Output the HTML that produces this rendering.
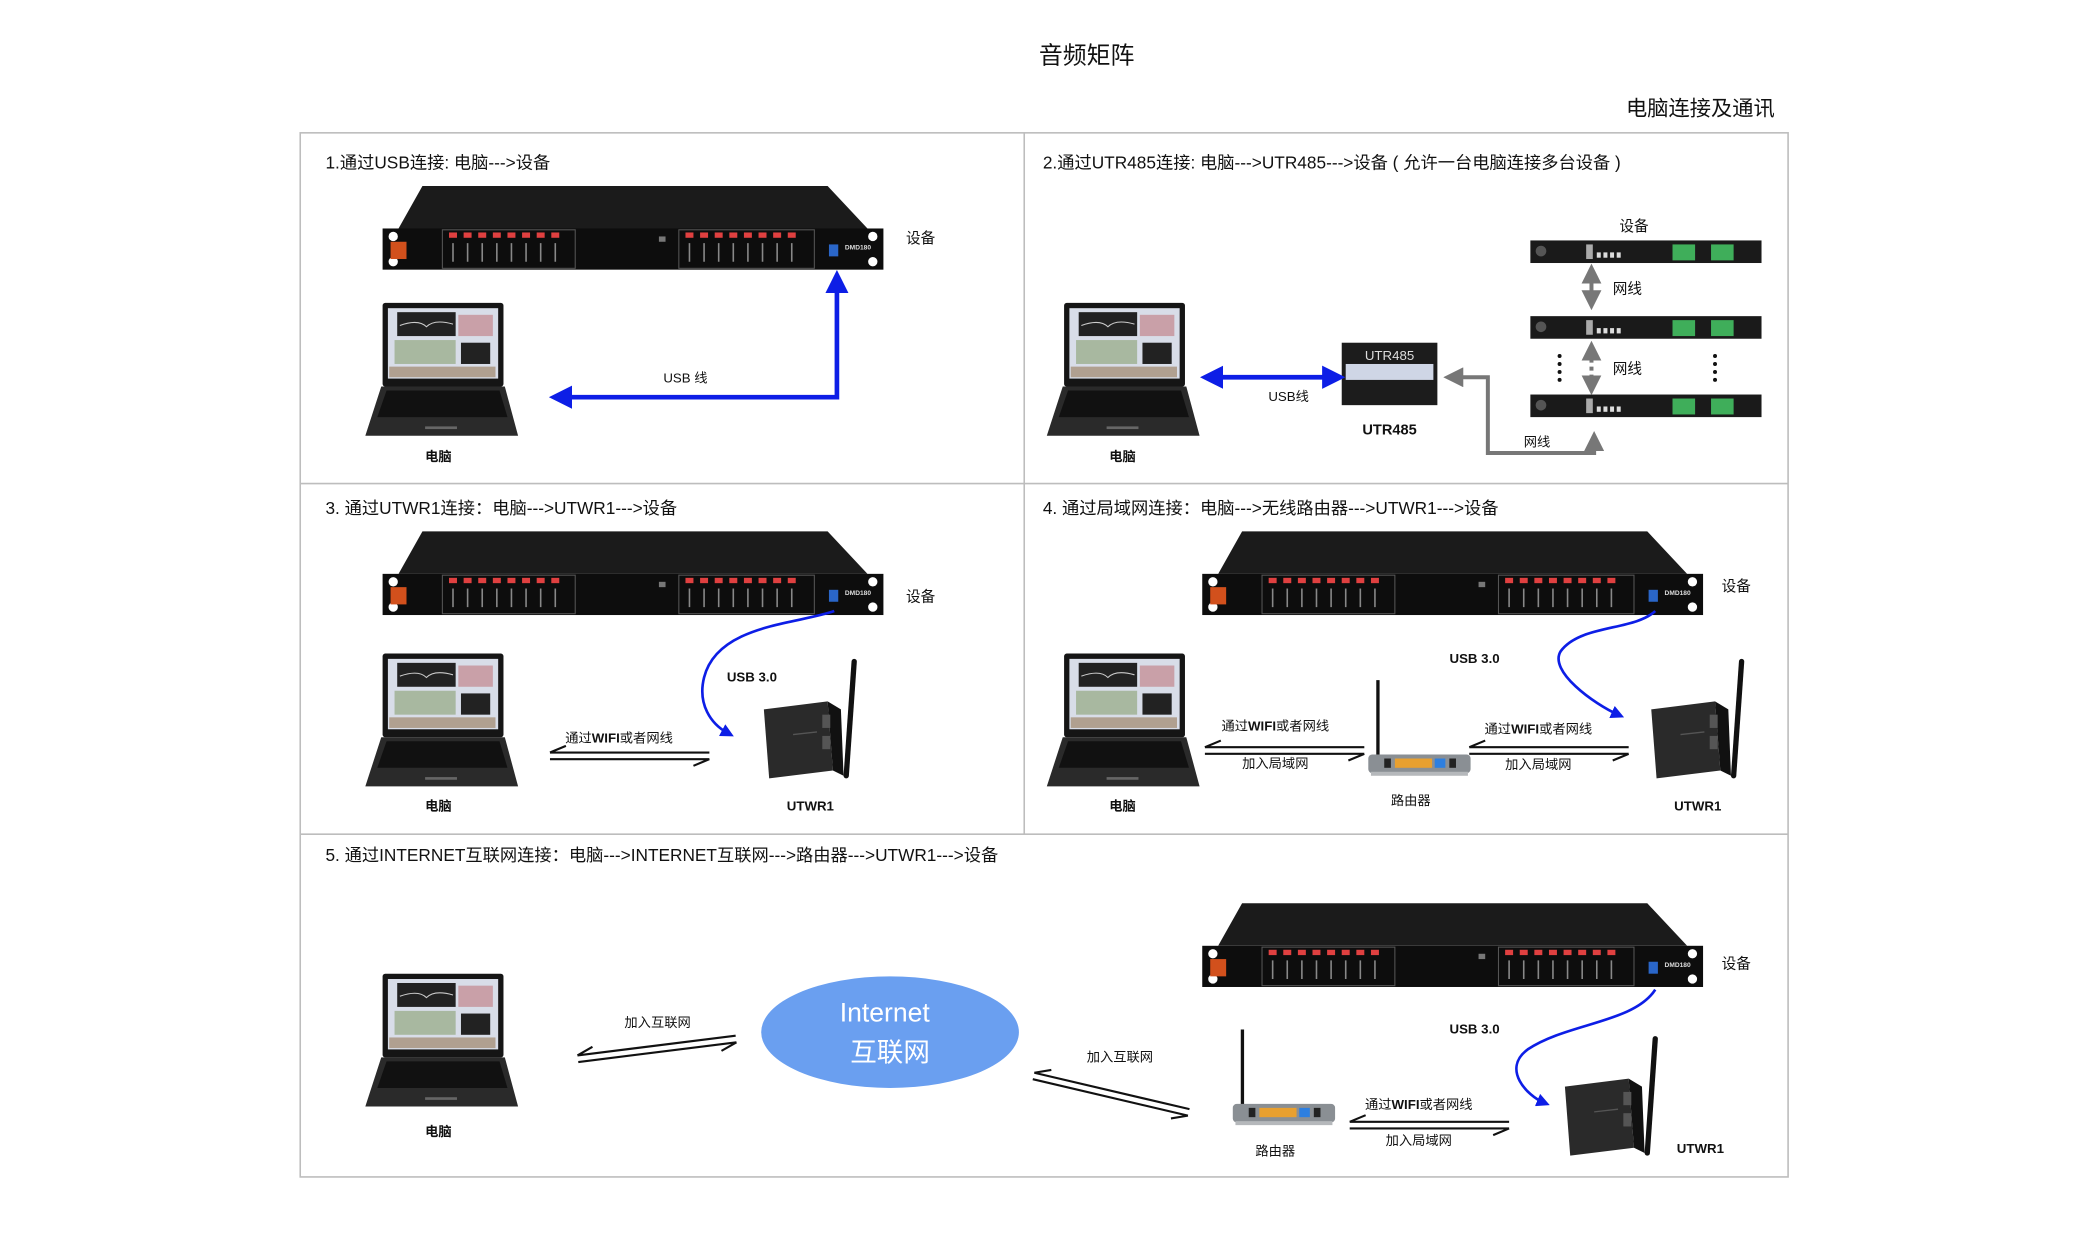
<!DOCTYPE html>
<html><head><meta charset="utf-8"><style>
html,body{margin:0;padding:0;background:#fff;}
svg{display:block;}
text{font-family:"Liberation Sans","Noto Sans CJK SC",sans-serif;fill:#111;}
.b{font-weight:bold;}
</style></head><body>
<svg width="2083" height="1250" viewBox="0 0 1568 941" preserveAspectRatio="none" xmlns="http://www.w3.org/2000/svg">
<defs>
 <g id="rack">
  <polygon points="30,0 335,0 365,32 12,32" fill="#1b1b1b"/>
  <rect x="0" y="32" width="377" height="31" fill="#0d0d0d"/>
  <circle cx="8" cy="38" r="3.5" fill="#fff"/><circle cx="8" cy="57" r="3.5" fill="#fff"/>
  <circle cx="369" cy="38" r="3.5" fill="#fff"/><circle cx="369" cy="57" r="3.5" fill="#fff"/>
  <rect x="6" y="42" width="12" height="13" fill="#d2501c"/>
  <rect x="45" y="33" width="100" height="29" fill="none" stroke="#555" stroke-width="0.8"/>
  <rect x="223" y="33" width="102" height="29" fill="none" stroke="#555" stroke-width="0.8"/>
  <g fill="#e04040">
   <rect x="50" y="35" width="6" height="4"/><rect x="61" y="35" width="6" height="4"/><rect x="72" y="35" width="6" height="4"/><rect x="83" y="35" width="6" height="4"/><rect x="94" y="35" width="6" height="4"/><rect x="105" y="35" width="6" height="4"/><rect x="116" y="35" width="6" height="4"/><rect x="127" y="35" width="6" height="4"/>
   <rect x="228" y="35" width="6" height="4"/><rect x="239" y="35" width="6" height="4"/><rect x="250" y="35" width="6" height="4"/><rect x="261" y="35" width="6" height="4"/><rect x="272" y="35" width="6" height="4"/><rect x="283" y="35" width="6" height="4"/><rect x="294" y="35" width="6" height="4"/><rect x="305" y="35" width="6" height="4"/>
  </g>
  <g stroke="#888" stroke-width="1.2">
   <path d="M53 43V57M64 43V57M75 43V57M86 43V57M97 43V57M108 43V57M119 43V57M130 43V57"/>
   <path d="M231 43V57M242 43V57M253 43V57M264 43V57M275 43V57M286 43V57M297 43V57M308 43V57"/>
  </g>
  <rect x="336" y="44" width="7" height="9" fill="#2a66c8"/>
  <text x="348" y="48" font-size="5" class="b" style="fill:#ddd">DMD180</text>
  <rect x="208" y="38" width="5" height="4" fill="#777"/>
 </g>
 <g id="laptop">
  <rect x="13" y="0" width="91" height="63" rx="2" fill="#151515"/>
  <rect x="17" y="4" width="83" height="53" fill="#d8dde8"/>
  <rect x="24" y="7" width="44" height="18" fill="#222"/>
  <path d="M26 17 Q40 12 46 18 Q52 12 66 16" stroke="#ccc" fill="none" stroke-width="0.8"/>
  <rect x="70" y="9" width="26" height="16" fill="#c9a0a8"/>
  <rect x="22" y="28" width="46" height="18" fill="#a8b8a0"/>
  <rect x="72" y="30" width="22" height="16" fill="#222"/>
  <rect x="18" y="48" width="80" height="8" fill="#b0a090"/>
  <polygon points="12,63 105,63 115,100 0,100" fill="#2a2a2a"/>
  <polygon points="16,66 101,66 107,86 9,86" fill="#111"/>
  <rect x="45" y="93" width="24" height="2" fill="#666"/>
 </g>
 <g id="router">
  <rect x="6" y="0" width="2.5" height="58" fill="#111"/>
  <rect x="0" y="56" width="77" height="14" rx="3" fill="#8a8f94"/>
  <rect x="2" y="69" width="73" height="3" fill="#b5b8bb"/>
  <rect x="20" y="59" width="28" height="7" fill="#e8a030"/>
  <rect x="50" y="59" width="8" height="7" fill="#2d7fe0"/>
  <rect x="61" y="59" width="5" height="7" fill="#222"/>
  <rect x="12" y="59" width="5" height="7" fill="#222"/>
 </g>
 <g id="utwr">
  <polygon points="0,36 48,30 52,82 4,88" fill="#2a2a2a"/>
  <polygon points="48,30 58,36 60,86 52,82" fill="#111"/>
  <rect x="44" y="40" width="6" height="10" fill="#555"/>
  <rect x="44" y="56" width="6" height="10" fill="#555"/>
  <line x1="22" y1="55" x2="40" y2="53" stroke="#555"/>
  <line x1="62" y1="86" x2="68" y2="0" stroke="#111" stroke-width="4" stroke-linecap="round"/>
 </g>
 <g id="rack2">
  <rect x="0" y="0" width="174" height="17" fill="#1a1a1a"/>
  <circle cx="8" cy="8" r="4" fill="#555"/>
  <rect x="42" y="3" width="5" height="11" fill="#aaa"/>
  <rect x="50" y="9" width="3" height="4" fill="#ddd"/><rect x="55" y="9" width="3" height="4" fill="#ddd"/><rect x="60" y="9" width="3" height="4" fill="#ddd"/><rect x="65" y="9" width="3" height="4" fill="#ddd"/>
  <rect x="107" y="3" width="17" height="12" fill="#3fae5a"/>
  <rect x="136" y="3" width="17" height="12" fill="#3fae5a"/>
 </g>
 <marker id="bl" viewBox="0 0 10 10" refX="5" refY="5" markerWidth="5" markerHeight="5" orient="auto-start-reverse"><path d="M0 0L10 5L0 10z" fill="#0d1ee6"/></marker>
 <marker id="gr" viewBox="0 0 10 10" refX="5" refY="5" markerWidth="5" markerHeight="5" orient="auto-start-reverse"><path d="M0 0L10 5L0 10z" fill="#777"/></marker>
 <g id="pair">
  <path d="M0 -2.5H120M0 -2.5L12 -7.5M0 2.5H120M120 2.5L108 7.5" stroke="#111" stroke-width="1.6" fill="none"/>
 </g>
</defs>

<text x="818" y="48" font-size="18" text-anchor="middle">音频矩阵</text>
<text x="1336" y="87" font-size="16" text-anchor="end">电脑连接及通讯</text>

<g stroke="#bdbdbd" stroke-width="1.2" fill="none">
 <rect x="226" y="100" width="1120" height="786"/>
 <line x1="771" y1="100" x2="771" y2="628"/>
 <line x1="226" y1="364" x2="1346" y2="364"/>
 <line x1="226" y1="628" x2="1346" y2="628"/>
</g>

<!-- Panel 1 -->
<text x="245" y="127" font-size="13">1.通过USB连接:  电脑---&gt;设备</text>
<use href="#rack" x="288" y="140"/>
<text x="682" y="183" font-size="11">设备</text>
<use href="#laptop" x="275" y="228"/>
<text x="330" y="347" font-size="10" text-anchor="middle" class="b">电脑</text>
<path d="M630 212V299H422" stroke="#0d1ee6" stroke-width="3.5" fill="none" marker-start="url(#bl)" marker-end="url(#bl)"/>
<text x="516" y="288" font-size="10" text-anchor="middle">USB 线</text>

<!-- Panel 2 -->
<text x="785" y="127" font-size="13">2.通过UTR485连接:  电脑---&gt;UTR485---&gt;设备 ( 允许一台电脑连接多台设备 )</text>
<use href="#laptop" x="788" y="228"/>
<text x="845" y="347" font-size="10" text-anchor="middle" class="b">电脑</text>
<text x="1230" y="174" font-size="11" text-anchor="middle">设备</text>
<use href="#rack2" x="1152" y="181"/>
<use href="#rack2" x="1152" y="238"/>
<use href="#rack2" x="1152" y="297"/>
<path d="M1198 206V226" stroke="#777" stroke-width="3" marker-start="url(#gr)" marker-end="url(#gr)"/>
<path d="M1198 264V290" stroke="#777" stroke-width="3" stroke-dasharray="3 3" marker-start="url(#gr)" marker-end="url(#gr)"/>
<text x="1214" y="221" font-size="11">网线</text>
<text x="1214" y="281" font-size="11">网线</text>
<g fill="#111"><circle cx="1174" cy="268" r="1.5"/><circle cx="1174" cy="274" r="1.5"/><circle cx="1174" cy="280" r="1.5"/><circle cx="1174" cy="286" r="1.5"/><circle cx="1291" cy="268" r="1.5"/><circle cx="1291" cy="274" r="1.5"/><circle cx="1291" cy="280" r="1.5"/><circle cx="1291" cy="286" r="1.5"/></g>
<rect x="1010" y="258" width="72" height="47" fill="#1c1c1c"/>
<text x="1046" y="271" font-size="10" text-anchor="middle" style="fill:#ddd">UTR485</text>
<rect x="1013" y="274" width="66" height="12" fill="#cfd6e6"/>
<text x="1046" y="327" font-size="11" text-anchor="middle" class="b">UTR485</text>
<path d="M912 284H1004" stroke="#0d1ee6" stroke-width="3.5" marker-start="url(#bl)" marker-end="url(#bl)"/>
<text x="970" y="302" font-size="10" text-anchor="middle">USB线</text>
<path d="M1094 284H1120V341H1200V332" stroke="#777" stroke-width="3" fill="none" marker-start="url(#gr)" marker-end="url(#gr)"/>
<text x="1157" y="336" font-size="10" text-anchor="middle">网线</text>

<!-- Panel 3 -->
<text x="245" y="387" font-size="13">3. 通过UTWR1连接：电脑---&gt;UTWR1---&gt;设备</text>
<use href="#rack" x="288" y="400"/>
<text x="682" y="453" font-size="11">设备</text>
<use href="#laptop" x="275" y="492"/>
<text x="330" y="610" font-size="10" text-anchor="middle" class="b">电脑</text>
<path d="M628 460 C600 470 540 470 530 510 C525 530 535 545 548 552" stroke="#0d1ee6" stroke-width="2" fill="none" marker-end="url(#bl)"/>
<text x="566" y="513" font-size="10" text-anchor="middle" class="b">USB 3.0</text>
<use href="#utwr" x="575" y="498"/>
<text x="610" y="610" font-size="10" text-anchor="middle" class="b">UTWR1</text>
<use href="#pair" transform="translate(414,569)"/>
<text x="466" y="559" font-size="10" text-anchor="middle">通过<tspan class="b">WIFI</tspan>或者网线</text>

<!-- Panel 4 -->
<text x="785" y="387" font-size="13">4. 通过局域网连接：电脑---&gt;无线路由器---&gt;UTWR1---&gt;设备</text>
<use href="#rack" x="905" y="400"/>
<text x="1296" y="445" font-size="11">设备</text>
<use href="#laptop" x="788" y="492"/>
<text x="845" y="610" font-size="10" text-anchor="middle" class="b">电脑</text>
<path d="M1246 460 C1230 475 1190 470 1175 490 C1165 505 1200 530 1218 538" stroke="#0d1ee6" stroke-width="2" fill="none" marker-end="url(#bl)"/>
<text x="1110" y="499" font-size="10" text-anchor="middle" class="b">USB 3.0</text>
<use href="#utwr" x="1243" y="498"/>
<text x="1278" y="610" font-size="10" text-anchor="middle" class="b">UTWR1</text>
<use href="#router" x="1030" y="512"/>
<text x="1062" y="606" font-size="10" text-anchor="middle">路由器</text>
<use href="#pair" transform="translate(907,565)"/>
<text x="960" y="550" font-size="10" text-anchor="middle">通过<tspan class="b">WIFI</tspan>或者网线</text>
<text x="960" y="578" font-size="10" text-anchor="middle">加入局域网</text>
<use href="#pair" transform="translate(1106,565)"/>
<text x="1158" y="552" font-size="10" text-anchor="middle">通过<tspan class="b">WIFI</tspan>或者网线</text>
<text x="1158" y="579" font-size="10" text-anchor="middle">加入局域网</text>

<!-- Panel 5 -->
<text x="245" y="648" font-size="13">5. 通过INTERNET互联网连接：电脑---&gt;INTERNET互联网---&gt;路由器---&gt;UTWR1---&gt;设备</text>
<use href="#laptop" x="275" y="733"/>
<text x="330" y="855" font-size="10" text-anchor="middle" class="b">电脑</text>
<use href="#pair" transform="translate(435,797) rotate(-7.1)"/>
<text x="495" y="773" font-size="10" text-anchor="middle">加入互联网</text>
<ellipse cx="670" cy="777" rx="97" ry="42" fill="#6a9ff0"/>
<text x="666" y="769" font-size="20" text-anchor="middle" style="fill:#fff">Internet</text>
<text x="670" y="799" font-size="20" text-anchor="middle" style="fill:#fff">互联网</text>
<use href="#pair" transform="translate(778,810) rotate(13.2)"/>
<text x="843" y="799" font-size="10" text-anchor="middle">加入互联网</text>
<use href="#router" x="928" y="775"/>
<text x="960" y="870" font-size="10" text-anchor="middle">路由器</text>
<use href="#pair" transform="translate(1016,847)"/>
<text x="1068" y="835" font-size="10" text-anchor="middle">通过<tspan class="b">WIFI</tspan>或者网线</text>
<text x="1068" y="862" font-size="10" text-anchor="middle">加入局域网</text>
<use href="#rack" x="905" y="680"/>
<text x="1296" y="729" font-size="11">设备</text>
<path d="M1246 745 C1230 770 1180 770 1150 790 C1130 805 1150 825 1162 830" stroke="#0d1ee6" stroke-width="2" fill="none" marker-end="url(#bl)"/>
<text x="1110" y="778" font-size="10" text-anchor="middle" class="b">USB 3.0</text>
<use href="#utwr" x="1178" y="782"/>
<text x="1280" y="868" font-size="10" text-anchor="middle" class="b">UTWR1</text>
</svg>
</body></html>
